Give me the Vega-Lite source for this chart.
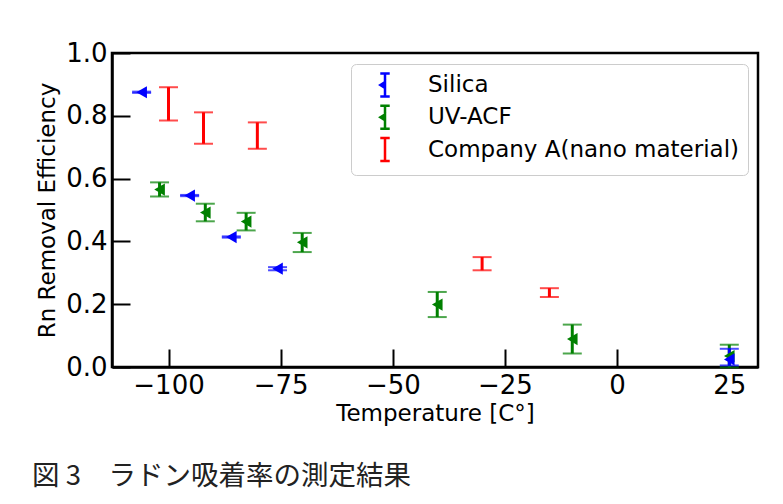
{
  "$schema": "https://vega.github.io/schema/vega-lite/v6.json",
  "width": 646,
  "height": 314,
  "autosize": {"type": "none"},
  "padding": {"left": 112, "top": 53, "right": 25, "bottom": 137},
  "background": "white",
  "title": {
    "text": "図 3　ラドン吸着率の測定結果",
    "orient": "bottom",
    "anchor": "start",
    "frame": "group",
    "dx": -80,
    "offset": 38,
    "font": "Noto Sans CJK JP",
    "fontSize": 27.5,
    "fontWeight": "normal",
    "color": "#222222"
  },
  "data": {
    "values": [
      {"material": "UV-ACF", "t": -102.0, "y": 0.565, "lo": 0.543, "hi": 0.588},
      {"material": "UV-ACF", "t": -91.8, "y": 0.492, "lo": 0.464, "hi": 0.520},
      {"material": "UV-ACF", "t": -82.7, "y": 0.463, "lo": 0.435, "hi": 0.491},
      {"material": "UV-ACF", "t": -70.2, "y": 0.397, "lo": 0.366, "hi": 0.427},
      {"material": "UV-ACF", "t": -40.1, "y": 0.199, "lo": 0.159, "hi": 0.239},
      {"material": "UV-ACF", "t": -10.0, "y": 0.089, "lo": 0.043, "hi": 0.135},
      {"material": "UV-ACF", "t": 25.0, "y": 0.035, "lo": -0.001, "hi": 0.071},
      {"material": "Silica", "t": -106.0, "y": 0.875, "lo": 0.873, "hi": 0.877},
      {"material": "Silica", "t": -95.3, "y": 0.546, "lo": 0.544, "hi": 0.548},
      {"material": "Silica", "t": -86.0, "y": 0.414, "lo": 0.412, "hi": 0.416},
      {"material": "Silica", "t": -75.7, "y": 0.313, "lo": 0.308, "hi": 0.318},
      {"material": "Silica", "t": 25.0, "y": 0.024, "lo": 0.005, "hi": 0.058},
      {"material": "Company A(nano material)", "t": -100.0, "y": 0.838, "lo": 0.785, "hi": 0.891},
      {"material": "Company A(nano material)", "t": -92.2, "y": 0.761, "lo": 0.711, "hi": 0.811},
      {"material": "Company A(nano material)", "t": -80.2, "y": 0.737, "lo": 0.695, "hi": 0.779},
      {"material": "Company A(nano material)", "t": -30.1, "y": 0.329, "lo": 0.308, "hi": 0.350},
      {"material": "Company A(nano material)", "t": -15.1, "y": 0.237, "lo": 0.223, "hi": 0.251}
    ]
  },
  "encoding": {
    "x": {
      "field": "t",
      "type": "quantitative",
      "scale": {"domain": [-112.6, 31.4], "nice": false, "zero": false},
      "axis": {
        "title": "Temperature [C°]",
        "values": [-100, -75, -50, -25, 0, 25],
        "format": "d",
        "grid": false,
        "tickSize": -18,
        "tickWidth": 2,
        "tickColor": "black",
        "labelPadding": 23,
        "labelFont": "DejaVu Sans",
        "labelFontSize": 26,
        "labelColor": "black",
        "labelFlush": false,
        "labelOverlap": false,
        "titleFont": "DejaVu Sans",
        "titleFontSize": 23,
        "titleFontWeight": "normal",
        "titleColor": "black",
        "titlePadding": 4,
        "domainColor": "black",
        "domainWidth": 2.5
      }
    }
  },
  "layer": [
    {
      "mark": {"type": "rule", "strokeWidth": 3},
      "encoding": {
        "y": {
          "field": "lo",
          "type": "quantitative",
          "scale": {"domain": [0, 1], "nice": false},
          "axis": {
            "title": "Rn Removal Efficiency",
            "values": [0, 0.2, 0.4, 0.6, 0.8, 1.0],
            "format": ".1f",
            "grid": false,
            "tickSize": -18,
            "tickWidth": 2,
            "tickColor": "black",
            "labelPadding": 23,
            "labelFont": "DejaVu Sans",
            "labelFontSize": 26,
            "labelColor": "black",
            "labelFlush": false,
            "labelOverlap": false,
            "titleFont": "DejaVu Sans",
            "titleFontSize": 23,
            "titleFontWeight": "normal",
            "titleColor": "black",
            "titlePadding": 6,
            "domainColor": "black",
            "domainWidth": 2.5
          }
        },
        "y2": {"field": "hi"},
        "stroke": {
          "field": "material",
          "type": "nominal",
          "scale": {
            "domain": ["Silica", "UV-ACF", "Company A(nano material)"],
            "range": ["#0000ff", "#008000", "#ff0000"]
          },
          "legend": {
            "title": null,
            "orient": "none",
            "legendX": 239,
            "legendY": 11,
            "direction": "vertical",
            "padding": 8,
            "cornerRadius": 5,
            "strokeColor": "#cccccc",
            "fillColor": "white",
            "symbolType": "M-0.41,-1H0.41M0,-1V1M-0.41,1H0.41",
            "symbolSize": 529,
            "symbolStrokeWidth": 2.5,
            "symbolFillColor": "transparent",
            "symbolOffset": 13,
            "labelOffset": 30,
            "labelFont": "DejaVu Sans",
            "labelFontSize": 23,
            "labelColor": "black",
            "labelLimit": 500,
            "rowPadding": -1.7,
            "encode": {
              "symbols": {
                "update": {
                  "shape": {"signal": "datum.value === 'Company A(nano material)' ? 'M-0.41,-1H0.41M0,-1V1M-0.41,1H0.41' : 'M-0.41,-1H0.41M0,-1V1M-0.41,1H0.41M-0.05,0L-0.45,0M-0.4,0L0,-0.25L0,0.25Z'"}
                }
              }
            }
          }
        }
      }
    },
    {
      "mark": {"type": "tick", "orient": "horizontal", "size": 19, "thickness": 2},
      "encoding": {
        "y": {"field": "lo", "type": "quantitative"},
        "color": {
          "field": "material",
          "type": "nominal",
          "scale": {
            "domain": ["Silica", "UV-ACF", "Company A(nano material)"],
            "range": ["#0000ff", "#008000", "#ff0000"]
          },
          "legend": null
        }
      }
    },
    {
      "mark": {"type": "tick", "orient": "horizontal", "size": 19, "thickness": 2},
      "encoding": {
        "y": {"field": "hi", "type": "quantitative"},
        "color": {"field": "material", "type": "nominal", "legend": null}
      }
    },
    {
      "transform": [{"filter": "datum.material !== 'Company A(nano material)'"}],
      "mark": {"type": "point", "shape": "triangle-left", "filled": true, "size": 150, "opacity": 1},
      "encoding": {
        "y": {"field": "y", "type": "quantitative"},
        "color": {"field": "material", "type": "nominal", "legend": null}
      }
    }
  ],
  "config": {
    "view": {"stroke": "black", "strokeWidth": 2.5}
  }
}
